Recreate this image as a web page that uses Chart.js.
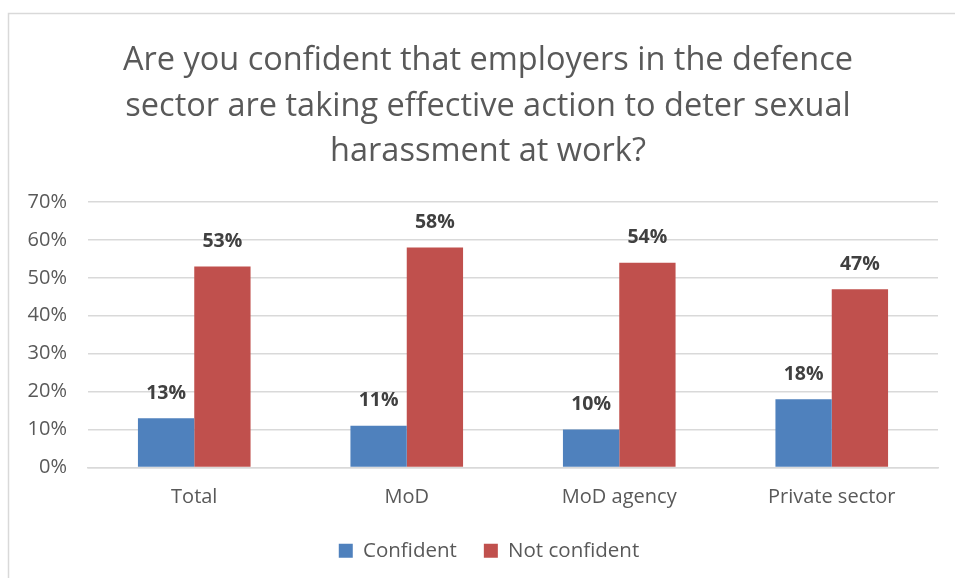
<!DOCTYPE html>
<html>
<head>
<meta charset="utf-8">
<script src="https://cdn.jsdelivr.net/npm/chart.js@4.4.1/dist/chart.umd.min.js"></script>
<style>
  html, body { margin: 0; padding: 0; background: #fff; }
  #wrap { width: 955px; height: 578px; position: relative; }
</style>
</head>
<body>
<div id="wrap"><canvas id="grafico" width="955" height="578"></canvas></div>
<script>
const categorias = ["Total", "MoD", "MoD agency", "Private sector"];
const confiante = [13, 11, 10, 18];
const naoConfiante = [53, 58, 54, 47];
const tituloLinhas = [
    "Are you confident that employers in the defence",
    "sector are taking effective action to deter sexual",
    "harassment at work?"
];
const serieNomes = ["Confident", "Not confident"];

const fonte = "'Open Sans', 'Noto Sans', sans-serif";
const centroQuadro = 489; // o quadro continua além da borda direita

// moldura cinza do gráfico
const moldura = {
    id: "moldura",
    beforeDraw(chart) {
        const ctx = chart.ctx;
        ctx.save();
        ctx.fillStyle = "#fff";
        ctx.fillRect(0, 0, chart.width, chart.height);
        ctx.strokeStyle = "#d9d9d9";
        ctx.lineWidth = 1.5;
        ctx.strokeRect(8.5, 13.5, chart.width + 20, chart.height + 20);
        ctx.restore();
    }
};

// legenda centrada no quadro e não só no canvas
const ajustaLegenda = {
    id: "ajustaLegenda",
    afterLayout(chart) {
        const lg = chart.legend;
        const dx = centroQuadro - (lg.left + lg.right) / 2;
        lg.left += dx;
        lg.right += dx;
        lg.top -= 14;
        lg.bottom -= 14;
    }
};

// título em três linhas
const titulo = {
    id: "titulo",
    afterDraw(chart) {
        const ctx = chart.ctx;
        ctx.save();
        ctx.font = "32.5px " + fonte;
        ctx.fillStyle = "#595959";
        ctx.textAlign = "center";
        ctx.textBaseline = "middle";
        tituloLinhas.forEach((linha, i) => ctx.fillText(linha, centroQuadro - 1, 61 + i * 45.5));
        ctx.restore();
    }
};

// rótulos de valor acima de cada barra
const rotulos = {
    id: "rotulos",
    afterDatasetsDraw(chart) {
        const ctx = chart.ctx;
        ctx.save();
        ctx.font = "bold 19.5px " + fonte;
        ctx.fillStyle = "#404040";
        ctx.textAlign = "center";
        ctx.textBaseline = "middle";
        chart.data.datasets.forEach((ds, i) => {
            chart.getDatasetMeta(i).data.forEach((bar, j) => {
                ctx.fillText(ds.data[j].toFixed(0) + "%", bar.x, bar.y - 25);
            });
        });
        ctx.restore();
    }
};

new Chart(document.getElementById("grafico"), {
    type: "bar",
    data: {
        labels: categorias,
        datasets: [
            { label: serieNomes[0], data: confiante, backgroundColor: "#4f81bd" },
            { label: serieNomes[1], data: naoConfiante, backgroundColor: "#c0504d" }
        ]
    },
    options: {
        responsive: false,
        animation: false,
        layout: { padding: { left: 14, right: 17, top: 202, bottom: -7 } },
        datasets: { bar: { categoryPercentage: 0.53, barPercentage: 1 } },
        plugins: {
            title: { display: false },
            legend: {
                position: "bottom",
                labels: {
                    color: "#595959",
                    font: { family: fonte, size: 20.5 },
                    boxWidth: 14,
                    boxHeight: 14,
                    padding: 27
                }
            },
            tooltip: { enabled: false }
        },
        scales: {
            x: {
                grid: { display: false, drawTicks: false },
                border: { color: "#d9d9d9", width: 1.5 },
                ticks: { color: "#595959", font: { family: fonte, size: 20 }, padding: 18 }
            },
            y: {
                min: 0,
                max: 70,
                afterFit: s => { s.width = 74; },
                grid: { color: "#d9d9d9", lineWidth: 1.5, drawTicks: false },
                border: { display: false },
                ticks: {
                    stepSize: 10,
                    color: "#595959",
                    font: { family: fonte, size: 20 },
                    padding: 21,
                    callback: v => v + "%"
                }
            }
        }
    },
    plugins: [moldura, ajustaLegenda, titulo, rotulos]
});
</script>
</body>
</html>
